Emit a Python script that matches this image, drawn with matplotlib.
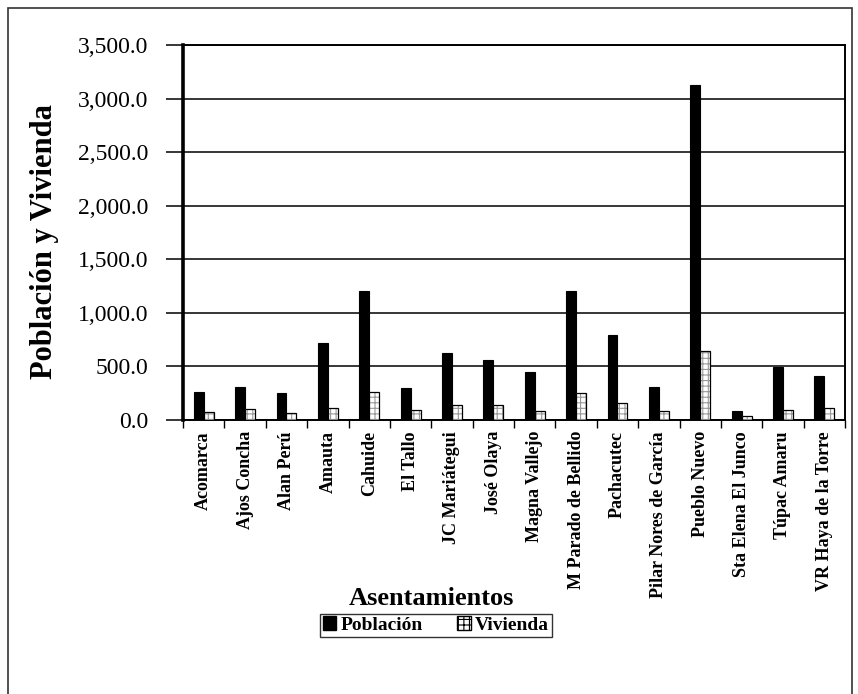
import numpy as np
import matplotlib.pyplot as plt
from matplotlib.patches import Rectangle
from matplotlib.ticker import FuncFormatter, MultipleLocator

asentamientos = ["Acomarca", "Ajos Concha", "Alan Perú", "Amauta", "Cahuide",
                 "El Tallo", "JC Mariátegui", "José Olaya", "Magna Vallejo",
                 "M Parado de Bellido", "Pachacutec", "Pilar Nores de García",
                 "Pueblo Nuevo", "Sta Elena El Junco", "Túpac Amaru",
                 "VR Haya de la Torre"]
poblacion = [264, 312, 255, 719, 1200, 300, 622, 564, 446, 1200, 792, 312,
             3130, 85, 494, 410]
vivienda = [73, 100, 64, 109, 264, 94, 139, 139, 88, 252, 161, 88, 640, 34,
            94, 109]

plt.rcParams['font.family'] = ['Liberation Serif', 'DejaVu Serif']
plt.rcParams['hatch.linewidth'] = 0.8

fig = plt.figure(figsize=(8.58, 6.94), dpi=100)
ax = fig.add_axes([0.2133, 0.3948, 0.7716, 0.5403])

x = np.arange(len(asentamientos))
w = 0.24
ax.bar(x - w / 2, poblacion, w, color='black', edgecolor='black',
       linewidth=0.8, zorder=3, label='Población')
# dotted fill first, then the black outline on top
ax.bar(x + w / 2, vivienda, w, color='white', edgecolor='#9a9a9a',
       hatch='+++', linewidth=0, zorder=3)
ax.bar(x + w / 2, vivienda, w, color='none', edgecolor='black',
       linewidth=0.9, zorder=4)

ax.set_xlim(-0.5, len(asentamientos) - 0.5)
ax.set_ylim(0, 3500)
ax.yaxis.set_major_locator(MultipleLocator(500))
ax.yaxis.set_major_formatter(FuncFormatter(lambda v, p: f"{v:,.1f}"))
ax.grid(axis='y', color='black', linewidth=1.1, zorder=1)

ax.set_xticks(x)
ax.set_xticklabels(asentamientos, rotation=90, fontweight='bold', fontsize=13)
ax.set_xticks(np.arange(len(asentamientos) + 1) - 0.5, minor=True)
ax.tick_params(axis='x', which='major', length=0, pad=8)
ax.tick_params(axis='x', which='minor', length=6, width=1, direction='out')
ax.tick_params(axis='y', length=12, width=1.1, pad=13, labelsize=17)

for side in ['top', 'right', 'bottom']:
    ax.spines[side].set_linewidth(1.4)
ax.spines['left'].set_linewidth(2.6)

ax.set_ylabel('Población y Vivienda', fontsize=22, fontweight='bold')
ax.yaxis.set_label_coords(-0.2085, 0.475)
ax.yaxis.label.set_va('center')
ax.set_xlabel('Asentamientos', fontsize=19, fontweight='bold')
ax.xaxis.set_label_coords(0.375, -0.475)
ax.xaxis.label.set_va('center')

leg_handles = [Rectangle((0, 0), 1, 1, facecolor='black', edgecolor='black'),
               Rectangle((0, 0), 1, 1, facecolor='white', edgecolor='black',
                         hatch='+++')]
leg = fig.legend(leg_handles, ['Población', 'Vivienda'], ncol=2,
                 loc='center', bbox_to_anchor=(0.508, 0.099),
                 prop={'weight': 'bold', 'size': 14}, frameon=True,
                 fancybox=False, handlelength=0.7, handleheight=0.7,
                 handletextpad=0.2, columnspacing=1.8, borderpad=0.15,
                 borderaxespad=0)
leg.get_frame().set_edgecolor('black')
leg.get_frame().set_linewidth(1.0)

# outer frame of the chart area
fig.patches.append(Rectangle((8 / 858, -0.01), 844 / 858, 1 - 8 / 694 + 0.01,
                             transform=fig.transFigure, fill=False,
                             edgecolor='#333333', linewidth=1.2))

fig.savefig('out.png', dpi=100)
